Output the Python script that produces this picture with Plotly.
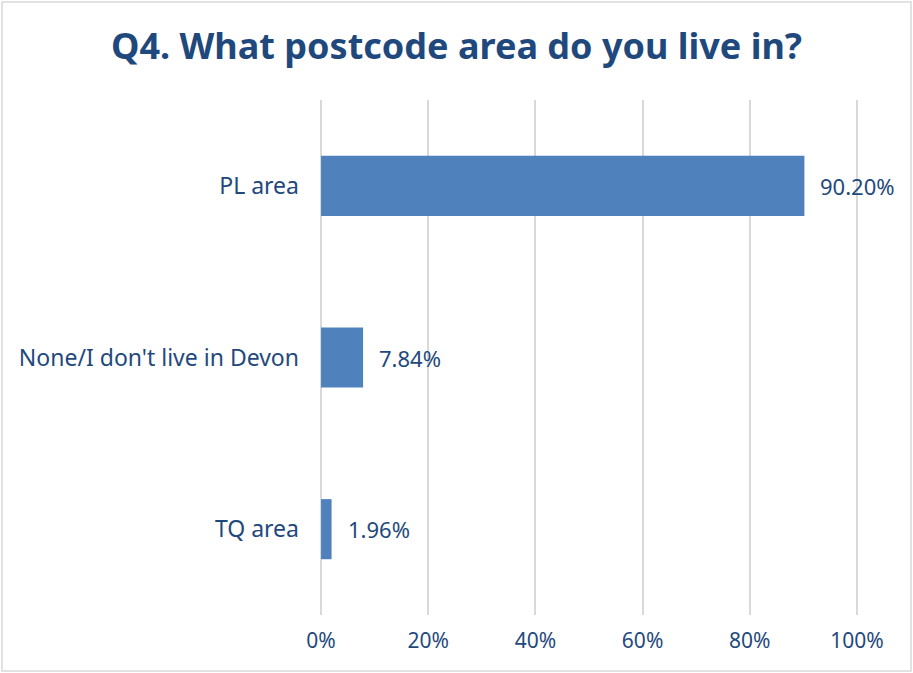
import plotly.graph_objects as go

categories = ["PL area", "None/I don't live in Devon", "TQ area"]
shares = [0.9020, 0.0784, 0.0196]
tick_vals = [0, 0.2, 0.4, 0.6, 0.8, 1.0]
tick_text = ["0%", "20%", "40%", "60%", "80%", "100%"]

BAR = "#4F81BD"
INK = "#1F497D"
GRID = "#D9D9D9"
FONT = "Noto Sans"

W, H = 913, 673
ML, MR, MT, MB = 320, 55, 100, 58
pw = W - ML - MR
ph = H - MT - MB

fig = go.Figure(go.Bar(
    x=shares, y=categories, orientation="h",
    marker=dict(color=BAR, line=dict(width=0)),
    hoverinfo="skip",
))

for c, v in zip(categories, shares):
    fig.add_annotation(
        x=v, y=c, xref="x", yref="y",
        text=f"{v * 100:.2f}%", showarrow=False,
        xanchor="left", xshift=14,
        font=dict(family=FONT, size=22, color=INK),
    )

# outer frame around the whole chart
fig.add_shape(
    type="rect", xref="paper", yref="paper",
    x0=(2 - ML) / pw, x1=(W - 2 - ML) / pw,
    y0=-(MB - 2) / ph, y1=1 + (MT - 2) / ph,
    line=dict(color="#D9D9D9", width=1.5), fillcolor="rgba(0,0,0,0)",
)

fig.update_layout(
    width=W, height=H,
    margin=dict(l=ML, r=MR, t=MT, b=MB),
    paper_bgcolor="white", plot_bgcolor="white",
    bargap=0.65,
    showlegend=False,
    title=dict(
        text="<b>Q4. What postcode area do you live in?</b>",
        x=0.5, xref="container", xanchor="center",
        y=1 - 46 / H, yref="container", yanchor="middle",
        font=dict(family=FONT, size=36, color=INK),
    ),
    xaxis=dict(
        range=[-0.002, 1.002], tickvals=tick_vals, ticktext=tick_text,
        showgrid=True, gridcolor=GRID, gridwidth=2,
        zeroline=False, showline=False, ticks="",
        ticklabelstandoff=11,
        tickfont=dict(family=FONT, size=21, color=INK),
    ),
    yaxis=dict(
        categoryorder="array", categoryarray=categories,
        autorange="reversed",
        showgrid=False, zeroline=False, showline=False, ticks="",
        ticklabelstandoff=20,
        tickfont=dict(family=FONT, size=23, color=INK),
    ),
)

fig.write_html("out.html")
